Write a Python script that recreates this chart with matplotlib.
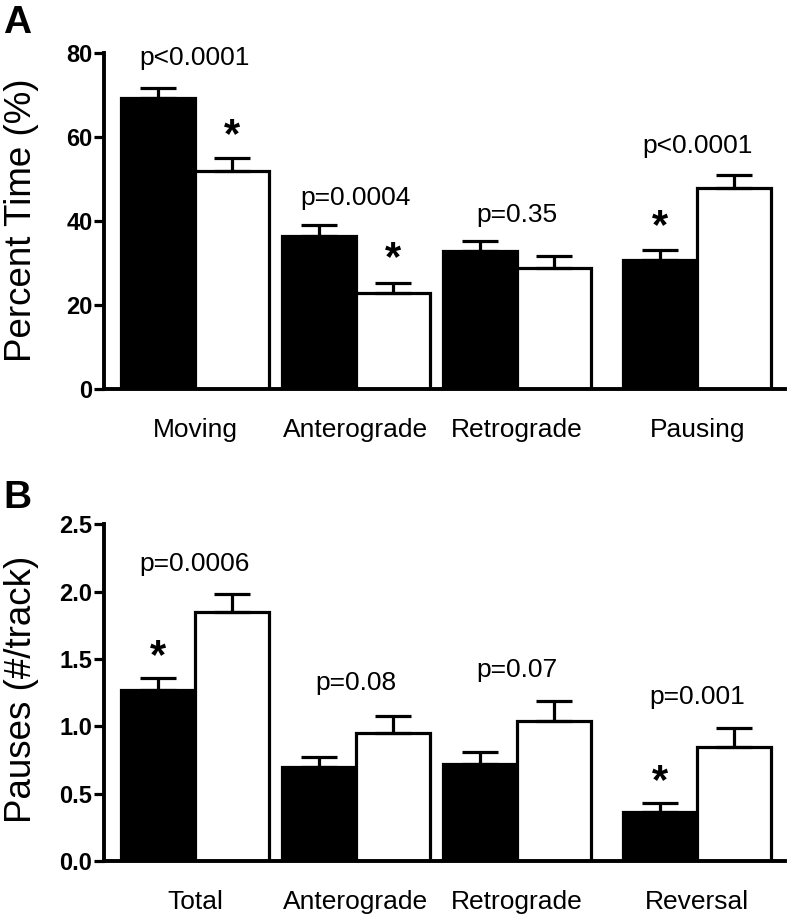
import matplotlib
matplotlib.use("Agg")
from matplotlib import pyplot as plt
import numpy as np

plt.rcParams['font.family'] = ['Liberation Sans', 'DejaVu Sans']

# panel A: percent time
a_labels = ["Moving", "Anterograde", "Retrograde", "Pausing"]
a_black = [69.4, 36.5, 32.9, 30.8]
a_black_err = [2.3, 2.6, 2.4, 2.3]
a_white = [52.0, 22.9, 28.8, 47.9]
a_white_err = [3.1, 2.5, 2.9, 3.1]
a_pvals = ["p<0.0001", "p=0.0004", "p=0.35", "p<0.0001"]
a_pval_y = [77.2, 43.9, 39.9, 56.2]
a_stars = [(0, "white", 57.6), (1, "white", 28.3), (3, "black", 36.0)]
a_ticks = [0, 20, 40, 60, 80]

# panel B: pauses per track
b_labels = ["Total", "Anterograde", "Retrograde", "Reversal"]
b_black = [1.27, 0.70, 0.72, 0.365]
b_black_err = [0.09, 0.075, 0.09, 0.065]
b_white = [1.85, 0.95, 1.04, 0.845]
b_white_err = [0.13, 0.125, 0.15, 0.14]
b_pvals = ["p=0.0006", "p=0.08", "p=0.07", "p=0.001"]
b_pval_y = [2.15, 1.267, 1.365, 1.163]
b_stars = [(0, "black", 1.436), (3, "black", 0.507)]
b_ticks = [0.0, 0.5, 1.0, 1.5, 2.0, 2.5]

# layout
group_x = np.array([0, 1, 2, 3.12])
bar_w = 0.46
LW = 2.3


def draw_panel(ax, labels, black, black_err, white, white_err, pvals, pval_y,
               stars, ticks, tickfmt):
    xb = group_x - bar_w / 2
    xw = group_x + bar_w / 2
    ax.bar(xb, black, bar_w, color="black", edgecolor="black", linewidth=LW, zorder=2)
    ax.bar(xw, white, bar_w, color="white", edgecolor="black", linewidth=LW, zorder=2)
    for x, v, e in [(xb, black, black_err), (xw, white, white_err)]:
        ax.errorbar(x, v, yerr=[np.zeros(len(v)), e], fmt="none", ecolor="black",
                    elinewidth=LW, capsize=13, capthick=LW, zorder=3)
    for i, p in enumerate(pvals):
        ax.text(group_x[i], pval_y[i], p, ha="center", va="baseline", fontsize=19)
    for g, which, y in stars:
        x = xb[g] if which == "black" else xw[g]
        ax.text(x, y, "*", ha="center", va="baseline", fontsize=30, fontweight="bold")

    ax.set_xlim(-0.568, 3.665)
    ax.set_ylim(ticks[0], ticks[-1])
    ax.set_xticks(group_x)
    ax.set_xticklabels(labels, fontsize=19)
    ax.set_yticks(ticks)
    ax.set_yticklabels([tickfmt.format(t) for t in ticks], fontsize=17, fontweight="bold")
    ax.tick_params(axis="x", length=0, pad=21)
    ax.tick_params(axis="y", length=7, width=LW, pad=1, direction="out")
    for s in ["top", "right"]:
        ax.spines[s].set_visible(False)
    for s in ["left", "bottom"]:
        ax.spines[s].set_linewidth(2.8)


fig = plt.figure(figsize=(7.92, 9.19), dpi=100)
ax_a = fig.add_axes([103.5 / 792, 1 - 389.3 / 919, 681.5 / 792, 336 / 919])
ax_b = fig.add_axes([103.5 / 792, 1 - 861 / 919, 681.5 / 792, 336.7 / 919])

draw_panel(ax_a, a_labels, a_black, a_black_err, a_white, a_white_err, a_pvals, a_pval_y,
           a_stars, a_ticks, "{:.0f}")
draw_panel(ax_b, b_labels, b_black, b_black_err, b_white, b_white_err, b_pvals, b_pval_y,
           b_stars, b_ticks, "{:.1f}")

# axis titles and panel letters
fig.text(22 / 792, 1 - 220 / 919, "Percent Time (%)", rotation=90, ha="center", va="center", fontsize=26.5)
fig.text(22 / 792, 1 - 689.5 / 919, "Pauses (#/track)", rotation=90, ha="center", va="center", fontsize=26.5)
fig.text(3 / 792, 1 - 33 / 919, "A", ha="left", va="baseline", fontsize=28, fontweight="bold")
fig.text(3 / 792, 1 - 508 / 919, "B", ha="left", va="baseline", fontsize=28, fontweight="bold")

fig.savefig("out.png", dpi=100)
